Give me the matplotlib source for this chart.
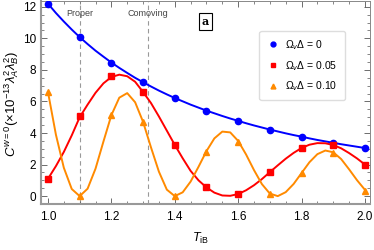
import numpy as np
import matplotlib
matplotlib.use('Agg')
import matplotlib.pyplot as plt
from matplotlib.ticker import MultipleLocator

plt.rcParams['font.family'] = ['Liberation Sans', 'DejaVu Sans']
plt.rcParams['mathtext.fontset'] = 'custom'
plt.rcParams['mathtext.rm'] = 'Liberation Sans'
plt.rcParams['mathtext.it'] = 'Liberation Sans:italic'
plt.rcParams['mathtext.bf'] = 'Liberation Sans:bold'

# curves, read at steps of 0.025 in T_iB
t_curve = np.linspace(1.0, 2.0, 41)
blue_curve = [12.2, 11.61, 11.07, 10.56, 10.08, 9.64, 9.22, 8.84, 8.47, 8.13,
              7.81, 7.50, 7.22, 6.95, 6.69, 6.45, 6.22, 6.01, 5.80, 5.61,
              5.42, 5.25, 5.08, 4.92, 4.77, 4.62, 4.48, 4.35, 4.22, 4.10,
              3.98, 3.87, 3.77, 3.66, 3.56, 3.47, 3.38, 3.29, 3.21, 3.13, 3.05]
red_curve = [1.1, 1.9, 2.8, 3.85, 5.0, 5.8, 6.55, 7.15, 7.55, 7.7,
             7.6, 7.25, 6.6, 5.9, 5.05, 4.15, 3.25, 2.4, 1.6, 1.0,
             0.55, 0.22, 0.04, 0.02, 0.13, 0.37, 0.69, 1.08, 1.52, 1.95,
             2.37, 2.74, 3.05, 3.26, 3.36, 3.35, 3.24, 3.03, 2.73, 2.39, 2.0]
orange_curve = [6.6, 3.9, 1.8, 0.45, 0.0, 0.47, 1.74, 3.46, 5.13, 6.24,
                6.53, 5.95, 4.71, 3.09, 1.55, 0.41, 0.0, 0.24, 0.92, 1.86,
                2.85, 3.66, 4.09, 4.04, 3.5, 2.64, 1.65, 0.76, 0.16, 0.0,
                0.25, 0.77, 1.46, 2.15, 2.66, 2.89, 2.78, 2.35, 1.70, 1.01, 0.4]

# marker points
t_pts = [1.0, 1.1, 1.2, 1.3, 1.4, 1.5, 1.6, 1.7, 1.8, 1.9, 2.0]
blue_pts = [12.2, 10.08, 8.47, 7.22, 6.22, 5.42, 4.77, 4.22, 3.77, 3.38, 3.05]
red_pts = [1.1, 5.05, 7.6, 6.6, 3.25, 0.55, 0.13, 1.55, 3.07, 3.25, 2.0]
orange_pts = [6.6, 0.0, 5.15, 4.7, 0.0, 2.8, 3.45, 0.12, 1.48, 2.72, 0.35]

labels = [r'$\Omega_v\Delta$ = 0', r'$\Omega_v\Delta$ = 0.05', r'$\Omega_v\Delta$ = 0.10']
frames = [1.1, 1.315]
frame_names = ['Proper', 'Comoving']

blue = '#0000ff'
red = '#ff0000'
orange = '#ff8a00'

fig = plt.figure(figsize=(3.74, 2.5), dpi=100)
ax = fig.add_axes([41/374, 46/250, 329/374, 203/250])

for xf, name in zip(frames, frame_names):
    ax.axvline(xf, color='#999999', ls=(0, (4, 3)), lw=0.8, zorder=1)
    ax.text(xf, 11.6, name, ha='center', va='center', fontsize=6.5, color='#444444')

ax.plot(t_curve, blue_curve, color=blue, lw=1.4, zorder=3)
ax.plot(t_curve, red_curve, color=red, lw=1.4, zorder=3)
ax.plot(t_curve, orange_curve, color=orange, lw=1.4, zorder=3)
ax.plot(t_pts, blue_pts, 'o', color=blue, ms=4.5, zorder=4, label=labels[0])
ax.plot(t_pts, red_pts, 's', color=red, ms=4.3, zorder=4, label=labels[1])
ax.plot(t_pts, orange_pts, '^', color=orange, ms=4.5, zorder=4, label=labels[2])

ax.set_xlim(0.978, 2.016)
ax.set_ylim(-0.5, 12.37)
ax.xaxis.set_major_locator(MultipleLocator(0.2))
ax.xaxis.set_minor_locator(MultipleLocator(0.05))
ax.yaxis.set_major_locator(MultipleLocator(2))
ax.yaxis.set_minor_locator(MultipleLocator(0.5))
ax.set_xticks([1.0, 1.2, 1.4, 1.6, 1.8, 2.0])
ax.set_xticklabels(['1.0', '1.2', '1.4', '1.6', '1.8', '2.0'])
ax.tick_params(which='both', direction='in', top=True, right=True, labelsize=8.5, color='#555555')
ax.tick_params(which='major', length=4, width=0.6)
ax.tick_params(which='minor', length=2, width=0.5)
ax.tick_params(axis='x', pad=5)
for s in ['left', 'bottom']:
    ax.spines[s].set_color('#999999')
    ax.spines[s].set_linewidth(1.5)
for s in ['top', 'right']:
    ax.spines[s].set_color('#888888')
    ax.spines[s].set_linewidth(0.7)

ax.set_xlabel(r'$T_{\rm iB}$', fontsize=9, va='center')
ax.xaxis.set_label_coords(0.485, -0.172)
ax.set_ylabel(r'$C^{w=0}(\times10^{-13}\lambda_A^2\lambda_B^2)$', fontsize=9.5, va='center')
ax.yaxis.set_label_coords(-0.09, 0.49)

ax.text(0.5, 0.9, 'a', transform=ax.transAxes, ha='center', va='center',
        fontsize=8, fontweight='bold', family='DejaVu Serif',
        bbox=dict(boxstyle='square,pad=0.25', fc='white', ec='black', lw=0.8))

leg = ax.legend(loc='upper left', bbox_to_anchor=(0.664, 0.853), borderaxespad=0,
                fontsize=7.5, handlelength=1.2, handletextpad=0.6, labelspacing=0.65,
                borderpad=0.7, framealpha=1, edgecolor='#dddddd', fancybox=True)
for h in leg.legend_handles:
    h.set_markersize(3.5)

fig.savefig('out.png', dpi=100)
